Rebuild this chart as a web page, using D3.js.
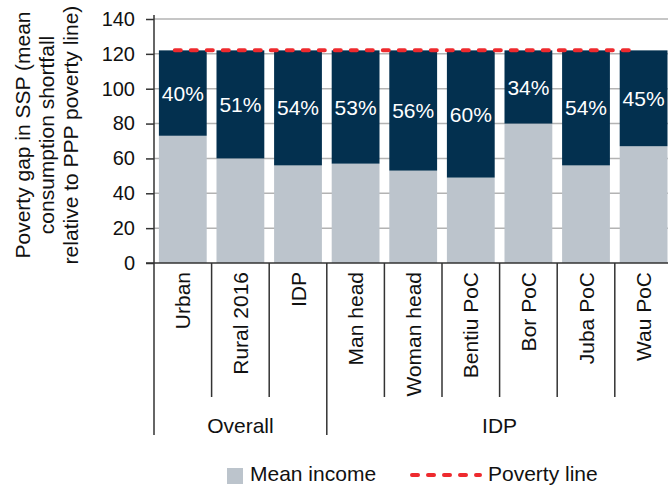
<!DOCTYPE html>
<html>
<head>
<meta charset="utf-8">
<script src="https://cdn.jsdelivr.net/npm/d3@7"></script>
<style>
  body { margin: 0; background: #fff; }
  svg { display: block; font-family: "Liberation Sans", Arial, sans-serif; }
</style>
</head>
<body>
<svg id="chart" width="668" height="486"></svg>
<script>
// categories and groups along the x axis
const categories = ['Urban', 'Rural 2016', 'IDP', 'Man head', 'Woman head',
                    'Bentiu PoC', 'Bor PoC', 'Juba PoC', 'Wau PoC'];
const groups = [
  { name: 'Overall', first: 'Urban', last: 'IDP' },
  { name: 'IDP', first: 'Man head', last: 'Wau PoC' }
];
// mean income (SSP) and poverty line
const meanIncome  = [73, 60, 56, 57, 53, 49, 80, 56, 67];
const povertyLine = 122;
const gapLabels   = ['40%', '51%', '54%', '53%', '56%', '60%', '34%', '54%', '45%'];
const yTicks      = [0, 20, 40, 60, 80, 100, 120, 140];

const navy = '#03304f';
const grey = '#bcc4cc';
const red  = '#ee2a2e';
const fs = 21;

const svg = d3.select('#chart');
const m = { left: 154, top: 19, bottom: 263 };

const x = d3.scaleBand()
  .domain(categories)
  .range([m.left, m.left + 9 * 57.6])
  .paddingInner(0.17)
  .paddingOuter(0.085);

const y = d3.scaleLinear()
  .domain([0, 140])
  .range([m.bottom, m.top]);

// gridlines
svg.append('g').selectAll('line')
  .data(yTicks.slice(1))
  .join('line')
    .attr('x1', m.left).attr('x2', 668)
    .attr('y1', d => y(d)).attr('y2', d => y(d))
    .attr('stroke', '#b3b3b3')
    .attr('stroke-width', 1.5);

// stacked bars: mean income below, poverty gap above
let data = categories.map((c, i) => ({ cat: c, mean: meanIncome[i], label: gapLabels[i] }));

let bars = svg.append('g').selectAll('g')
  .data(data)
  .join('g');

bars.append('rect')
  .attr('x', d => x(d.cat))
  .attr('width', x.bandwidth())
  .attr('y', d => y(d.mean))
  .attr('height', d => y(0) - y(d.mean))
  .attr('fill', grey);

bars.append('rect')
  .attr('x', d => x(d.cat))
  .attr('width', x.bandwidth())
  .attr('y', y(povertyLine))
  .attr('height', d => y(d.mean) - y(povertyLine))
  .attr('fill', navy);

bars.append('text')
  .attr('x', d => x(d.cat) + x.bandwidth() / 2)
  .attr('y', d => (y(d.mean) + y(povertyLine)) / 2)
  .attr('dy', '0.36em')
  .attr('text-anchor', 'middle')
  .attr('fill', '#fff')
  .attr('font-size', fs)
  .text(d => d.label);

// poverty line
svg.append('line')
  .attr('x1', x(categories[0]) + x.bandwidth() / 2 - 8)
  .attr('x2', x(categories[categories.length - 1]) + x.bandwidth() / 2 - 12)
  .attr('y1', y(povertyLine)).attr('y2', y(povertyLine))
  .attr('stroke', red)
  .attr('stroke-width', 4)
  .attr('stroke-linecap', 'round')
  .attr('stroke-dasharray', '6 10');

// y axis
const yAxis = d3.axisLeft(y)
  .tickValues(yTicks)
  .tickSize(8)
  .tickPadding(11);

svg.append('g')
  .attr('transform', `translate(${m.left},0)`)
  .call(yAxis)
  .call(g => g.select('.domain').remove())
  .call(g => g.selectAll('line').attr('stroke', '#333').attr('stroke-width', 1.5))
  .call(g => g.selectAll('text')
    .attr('font-size', 20)
    .attr('font-family', '"Liberation Sans", Arial, sans-serif')
    .attr('fill', '#111'));

// axis lines
svg.append('line')
  .attr('x1', m.left).attr('x2', m.left)
  .attr('y1', m.top - 4).attr('y2', 435)
  .attr('stroke', '#333').attr('stroke-width', 1.5);
svg.append('line')
  .attr('x1', m.left - 8).attr('x2', 668)
  .attr('y1', y(0)).attr('y2', y(0))
  .attr('stroke', '#333').attr('stroke-width', 1.5);

// category dividers and labels
const half = x.step() * x.paddingInner() / 2;
const groupStarts = groups.map(g => g.first);

svg.append('g').selectAll('line')
  .data(categories.slice(1))
  .join('line')
    .attr('x1', d => x(d) - half).attr('x2', d => x(d) - half)
    .attr('y1', y(0))
    .attr('y2', d => groupStarts.includes(d) ? 435 : 397)
    .attr('stroke', '#333').attr('stroke-width', 1.5);

svg.append('g').selectAll('text')
  .data(categories)
  .join('text')
    .attr('transform', d => `translate(${x(d) + x.bandwidth() / 2},272) rotate(-90)`)
    .attr('dy', '0.36em')
    .attr('text-anchor', 'end')
    .attr('font-size', fs)
    .attr('fill', '#111')
    .text(d => d);

svg.append('g').selectAll('text')
  .data(groups)
  .join('text')
    .attr('x', d => (x(d.first) - half + x(d.last) + x.bandwidth() + half) / 2)
    .attr('y', 433)
    .attr('text-anchor', 'middle')
    .attr('font-size', fs)
    .attr('fill', '#111')
    .text(d => d.name);

// y axis title
const titleLines = ['Poverty gap in SSP (mean', 'consumption shortfall', 'relative to PPP poverty line)'];
svg.append('g')
  .attr('transform', 'translate(0,135) rotate(-90)')
  .selectAll('text')
  .data(titleLines)
  .join('text')
    .attr('x', 0)
    .attr('y', (d, i) => 30 + i * 24)
    .attr('text-anchor', 'middle')
    .attr('font-size', fs)
    .attr('fill', '#111')
    .text(d => d);

// legend
const legend = svg.append('g');
legend.append('rect')
  .attr('x', 227).attr('y', 468)
  .attr('width', 16).attr('height', 16)
  .attr('fill', grey);
legend.append('text')
  .attr('x', 250).attr('y', 481)
  .attr('font-size', fs).attr('fill', '#111')
  .text('Mean income');
legend.append('line')
  .attr('x1', 412).attr('x2', 480)
  .attr('y1', 475).attr('y2', 475)
  .attr('stroke', red).attr('stroke-width', 4)
  .attr('stroke-linecap', 'round')
  .attr('stroke-dasharray', '6 10');
legend.append('text')
  .attr('x', 488).attr('y', 481)
  .attr('font-size', fs).attr('fill', '#111')
  .text('Poverty line');
</script>
</body>
</html>
